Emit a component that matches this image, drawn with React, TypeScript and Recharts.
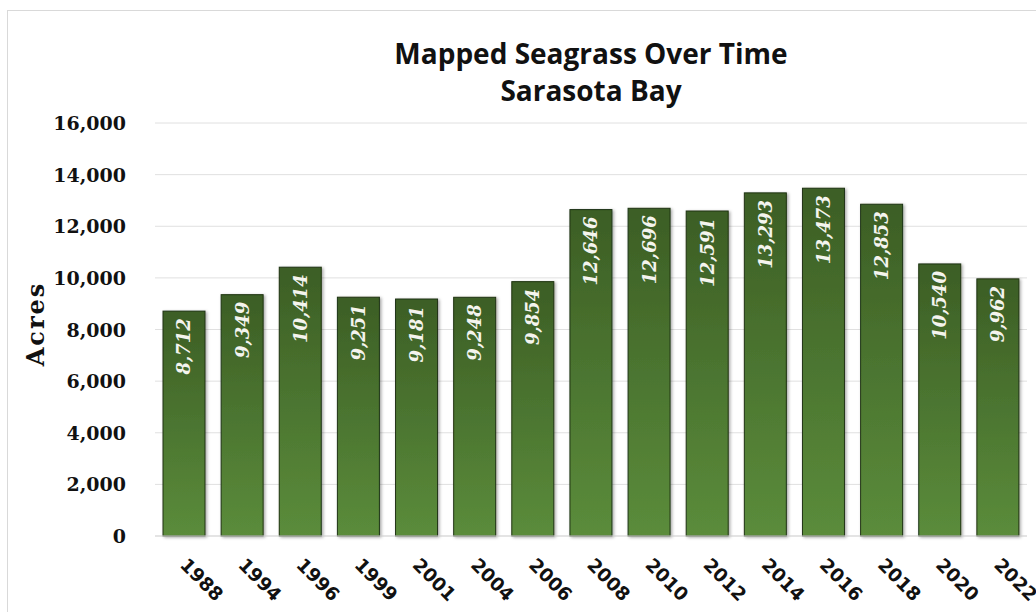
import { BarChart, Bar, XAxis, YAxis, CartesianGrid, LabelList, Label } from 'recharts'

const years = ['1988', '1994', '1996', '1999', '2001', '2004', '2006', '2008', '2010', '2012', '2014', '2016', '2018', '2020', '2022']
const acres = [8712, 9349, 10414, 9251, 9181, 9248, 9854, 12646, 12696, 12591, 13293, 13473, 12853, 10540, 9962]
const yTicks = [0, 2000, 4000, 6000, 8000, 10000, 12000, 14000, 16000]

const data = years.map((year, i) => ({ year, acres: acres[i] }))

const fmt = (v: number) => v.toLocaleString('en-US')

function YTick(props: any) {
  const { x, y, payload } = props
  return (
    <text x={x - 21} y={y} textAnchor="end" dominantBaseline="central"
      fontFamily="DejaVu Serif" fontWeight="bold" fontSize={19} fill="#111">
      {fmt(payload.value)}
    </text>
  )
}

function XTick(props: any) {
  const { x, y, payload } = props
  const ax = x - 5
  const ay = y + 22
  return (
    <text x={ax} y={ay} transform={`rotate(45 ${ax} ${ay})`} textAnchor="start"
      fontFamily="DejaVu Sans" fontWeight="bold" fontSize={18.5} fill="#111">
      {payload.value}
    </text>
  )
}

function BarShape(props: any) {
  const { x, y, width, height } = props
  return (
    <rect x={x} y={y} width={width} height={height} fill="url(#barGrad)"
      stroke="#1f3313" strokeWidth={1} filter="url(#barShadow)" />
  )
}

function BarValue(props: any) {
  const { x, y, width, value } = props
  const cx = x + width / 2
  const ty = y + 7
  return (
    <text x={cx} y={ty} transform={`rotate(-90 ${cx} ${ty})`} textAnchor="end" dominantBaseline="central"
      fontFamily="DejaVu Serif" fontWeight="bold" fontStyle="italic" fontSize={18} fill="#f4f4ee">
      {fmt(value)}
    </text>
  )
}

export default function App() {
  return (
    <div style={{ position: 'absolute', left: 0, top: 0, width: 1036, height: 612, background: '#fff', overflow: 'hidden' }}>
      <div style={{ position: 'absolute', left: 7, top: 10, width: 1100, height: 700, borderTop: '1px solid #d9d9d9', borderLeft: '1px solid #d9d9d9' }} />
      <div style={{ position: 'absolute', left: 155, width: 872, top: 35, textAlign: 'center', fontFamily: 'Open Sans', fontWeight: 700, fontSize: 28, lineHeight: '37px', color: '#111' }}>
        Mapped Seagrass Over Time<br />Sarasota Bay
      </div>
      <div style={{ position: 'absolute', left: 0, top: 0 }}>
        <BarChart width={1036} height={612} data={data} margin={{ top: 123, right: 9, bottom: 0, left: 0 }} barSize={42}>
          <defs>
            <linearGradient id="barGrad" x1="0" y1="0" x2="0" y2="1">
              <stop offset="0%" stopColor="#3c5e25" />
              <stop offset="100%" stopColor="#5b8c3b" />
            </linearGradient>
            <filter id="barShadow" x="-30%" y="-10%" width="160%" height="120%">
              <feDropShadow dx="1.5" dy="1" stdDeviation="1.5" floodColor="#000" floodOpacity="0.35" />
            </filter>
          </defs>
          <CartesianGrid vertical={false} stroke="#e0e0e0" />
          <XAxis dataKey="year" height={76} tick={<XTick />} tickLine={false} axisLine={{ stroke: '#d9d9d9' }} interval={0} />
          <YAxis width={155} domain={[0, 16000]} ticks={yTicks} tick={<YTick />} tickLine={false} axisLine={false}>
            <Label content={() => (
              <text x={35} y={324} transform="rotate(-90 35 324)" textAnchor="middle" dominantBaseline="central"
                fontFamily="DejaVu Serif" fontWeight="bold" fontSize={24} letterSpacing={2} fill="#111">
                Acres
              </text>
            )} />
          </YAxis>
          <Bar dataKey="acres" shape={<BarShape />} isAnimationActive={false}>
            <LabelList dataKey="acres" content={<BarValue />} />
          </Bar>
        </BarChart>
      </div>
    </div>
  )
}
